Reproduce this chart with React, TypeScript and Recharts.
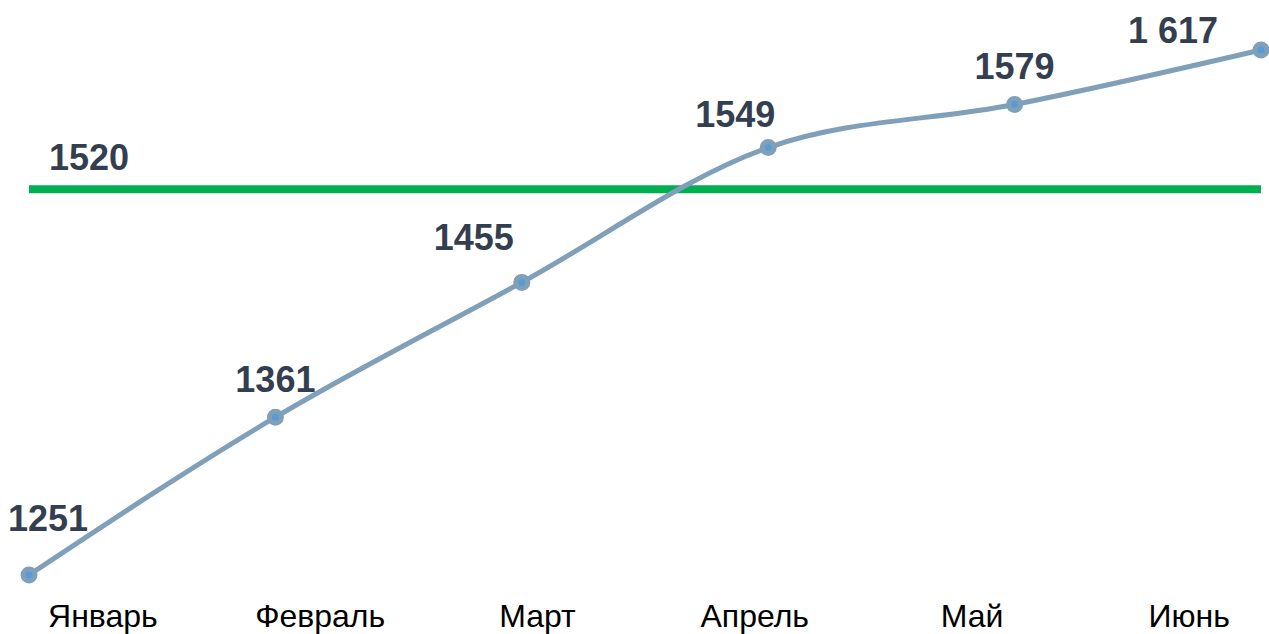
import React from "react";
import {
  LineChart,
  Line,
  XAxis,
  YAxis,
  ReferenceLine,
  LabelList,
} from "recharts";

const months = ["Январь", "Февраль", "Март", "Апрель", "Май", "Июнь"];
const values = [1251, 1361, 1455, 1549, 1579, 1617];
const valueLabels = ["1251", "1361", "1455", "1549", "1579", "1 617"];
const target = 1520;

// label offsets relative to each point (dx, dy)
const labelOffsets = [
  [19, -57],
  [0, -38],
  [-48, -45],
  [-33, -33],
  [0, -38],
  [-88, -20],
];

const data = values.map((v, i) => ({ idx: i, month: months[i], value: v }));

const LINE_COLOR = "#809fb8";
const LABEL_COLOR = "#333f50";
const FONT = "'Liberation Sans', Arial, sans-serif";

const PointLabel = (props: any) => {
  const { x, y, index } = props;
  const [dx, dy] = labelOffsets[index];
  return (
    <text
      x={x + dx}
      y={y + dy}
      textAnchor="middle"
      dominantBaseline="central"
      fontSize={36}
      fontWeight="bold"
      fontFamily={FONT}
      fill={LABEL_COLOR}
    >
      {valueLabels[index]}
    </text>
  );
};

const TargetLabel = (props: any) => {
  const { viewBox } = props;
  return (
    <text
      x={viewBox.x + 60}
      y={viewBox.y - 32}
      textAnchor="middle"
      dominantBaseline="central"
      fontSize={36}
      fontWeight="bold"
      fontFamily={FONT}
      fill={LABEL_COLOR}
    >
      {target}
    </text>
  );
};

export default function App() {
  return (
    <div style={{ position: "absolute", left: 0, top: 0, background: "#fff" }}>
      <LineChart
        width={1269}
        height={634}
        data={data}
        margin={{ top: 50, right: 8, left: 29, bottom: 0 }}
      >
        <XAxis xAxisId="pts" dataKey="idx" type="number" domain={[0, 5]} hide />
        <XAxis
          xAxisId="lbl"
          dataKey="idx"
          type="number"
          domain={[-0.34, 5.33]}
          ticks={[0, 1, 2, 3, 4, 5]}
          tickFormatter={(i: number) => months[i]}
          axisLine={false}
          tickLine={false}
          height={59}
          tickMargin={23}
          tick={{ fontSize: 32, fill: "#000", fontFamily: FONT }}
          interval={0}
        />
        <YAxis domain={[1251, 1617]} hide />
        <ReferenceLine
          xAxisId="pts"
          y={target}
          stroke="#00b050"
          strokeWidth={8}
          label={TargetLabel}
        />
        <Line
          xAxisId="pts"
          type="monotone"
          dataKey="value"
          stroke={LINE_COLOR}
          strokeWidth={5}
          dot={{ r: 6, fill: "#5b9bd5", stroke: LINE_COLOR, strokeWidth: 5 }}
          activeDot={false}
          isAnimationActive={false}
        >
          <LabelList dataKey="value" content={PointLabel} />
        </Line>
      </LineChart>
    </div>
  );
}
